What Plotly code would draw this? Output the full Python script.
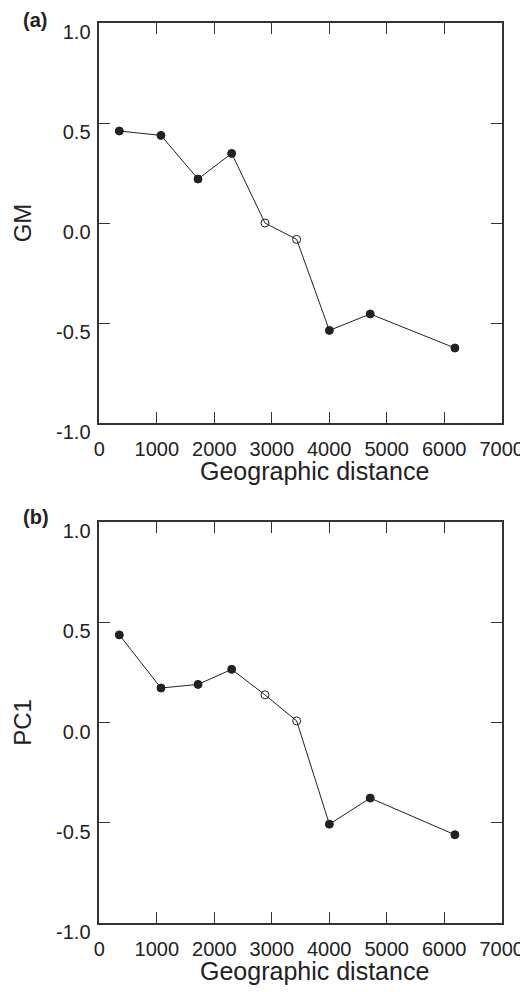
import plotly.graph_objects as go

# Data
distance = [348, 1073, 1717, 2303, 2882, 3433, 4002, 4713, 6186]
gm = [0.46, 0.438, 0.22, 0.348, 0.0, -0.082, -0.537, -0.455, -0.625]
pc1 = [0.437, 0.172, 0.19, 0.265, 0.138, 0.008, -0.507, -0.377, -0.56]
open_pt = [False, False, False, False, True, True, False, False, False]
x_ticks = [0, 1000, 2000, 3000, 4000, 5000, 6000, 7000]
x_tick_text = ["0", "1000", "2000", "3000", "4000", "5000", "6000", "7000"]
y_ticks = [-1.0, -0.5, 0.0, 0.5, 1.0]
y_tick_text = ["-1.0", "-0.5", "0.0", "0.5", "1.0"]
x_title = "Geographic distance"
y_titles = ["GM", "PC1"]
panel_labels = ["(a)", "(b)"]

FONT = "Liberation Sans, Arial, sans-serif"
INK = "#222222"
symbols = ["circle-open" if o else "circle" for o in open_pt]

# page body has an 8px margin; figure sized to fit the 528x992 window
OFF = 8
W, H = 528 - OFF, 992 - OFF

def fx(px):
    return (px - OFF) / W

def fy(py):
    return 1 - (py - OFF) / H

fig = go.Figure()
for ys, xa, ya in [(gm, "x", "y"), (pc1, "x2", "y2")]:
    fig.add_trace(go.Scatter(
        x=distance, y=ys, xaxis=xa, yaxis=ya, mode="lines+markers",
        line=dict(color=INK, width=1),
        marker=dict(symbol=symbols, size=8, color=INK,
                    line=dict(color=INK, width=1)),
        showlegend=False, cliponaxis=False))

xdom = [fx(99.3), fx(501.7)]
ydom_a = [fy(423), fy(23)]
ydom_b = [fy(923), fy(522)]

def xaxis(anchor):
    return dict(domain=xdom, anchor=anchor, range=[0, 7000], tickvals=x_ticks,
                ticktext=x_tick_text,
                ticks="inside", ticklen=11, tickwidth=1, tickcolor="#333",
                showline=True, linecolor="#333", linewidth=1.5, mirror="ticks",
                showgrid=False, zeroline=False, ticklabelstandoff=7,
                tickfont=dict(family=FONT, size=20, color=INK),
                automargin=False)

def yaxis(anchor, dom, title):
    return dict(domain=dom, anchor=anchor, range=[-1, 1], tickvals=y_ticks,
                ticktext=y_tick_text,
                ticks="inside", ticklen=11, tickwidth=1, tickcolor="#333",
                showline=True, linecolor="#333", linewidth=1.5, mirror="ticks",
                showgrid=False, zeroline=False, ticklabelshift=9,
                ticklabelstandoff=3,
                tickfont=dict(family=FONT, size=20, color=INK),
                title=dict(text=title, standoff=18,
                           font=dict(family=FONT, size=24, color=INK)),
                automargin=False)

annotations = []
for lbl, ly, ty in [(panel_labels[0], 20, 471), (panel_labels[1], 517, 971)]:
    annotations.append(dict(text="<b>" + lbl + "</b>", x=fx(21), y=fy(ly),
                            xref="paper", yref="paper", xanchor="left",
                            yanchor="middle", showarrow=False,
                            font=dict(family=FONT, size=20, color=INK)))
    annotations.append(dict(text=x_title, x=fx(314), y=fy(ty),
                            xref="paper", yref="paper", xanchor="center",
                            yanchor="middle", showarrow=False,
                            font=dict(family=FONT, size=25, color=INK)))

fig.update_layout(
    width=W, height=H,
    margin=dict(l=0, r=0, t=0, b=0),
    paper_bgcolor="white", plot_bgcolor="white",
    xaxis=xaxis("y"), yaxis=yaxis("x", ydom_a, y_titles[0]),
    xaxis2=xaxis("y2"), yaxis2=yaxis("x2", ydom_b, y_titles[1]),
    annotations=annotations,
)

fig.write_html("out.html")
